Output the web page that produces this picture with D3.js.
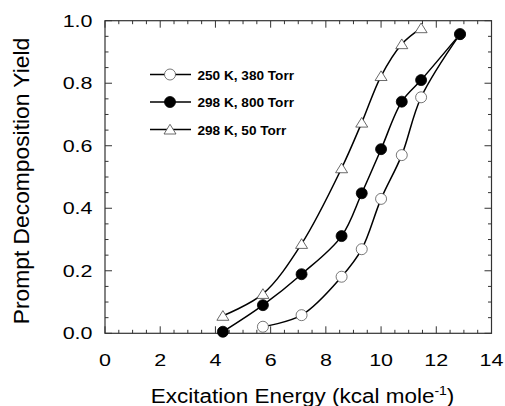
<!DOCTYPE html>
<html><head><meta charset="utf-8">
<script src="https://cdn.jsdelivr.net/npm/d3@7"></script>
<style>body{margin:0;background:#fff}svg{display:block}</style>
</head><body>
<script>
const energy = [4.27, 5.72, 7.12, 8.57, 9.30, 10.0, 10.75, 11.45, 12.86];
const yield250_380 = [null, 0.021, 0.058, 0.181, 0.269, 0.430, 0.570, 0.755, 0.957];
const yield298_800 = [0.005, 0.090, 0.189, 0.311, 0.448, 0.589, 0.741, 0.810, 0.957];
const yield298_50  = [0.056, 0.126, 0.286, 0.528, 0.674, 0.823, 0.925, 0.976, null];
const seriesNames = ["250 K, 380 Torr", "298 K, 800 Torr", "298 K, 50 Torr"];
const xTicks = [0, 2, 4, 6, 8, 10, 12, 14];
const yTicks = [0.0, 0.2, 0.4, 0.6, 0.8, 1.0];

const W = 505, H = 406;
const m = {l:105, r:13.5, t:20.7, b:72.7};
const svg = d3.select("body").append("svg").attr("width", W).attr("height", H);
const x = d3.scaleLinear().domain([0, 14]).range([m.l, W - m.r]);
const y = d3.scaleLinear().domain([0, 1]).range([H - m.b, m.t]);

const axisColor = "#333";
const font = "Liberation Sans, Arial, sans-serif";

// ticks (inward) on all four sides
const xMinor = d3.range(0, 14.01, 0.5);
const yMinor = d3.range(0, 1.001, 0.05);
const g = svg.append("g").attr("stroke", axisColor).attr("stroke-width", 1);
xMinor.forEach(v => {
  const major = Math.abs(v / 2 - Math.round(v / 2)) < 1e-6;
  const len = major ? 7 : 3.5;
  g.append("line").attr("x1", x(v)).attr("x2", x(v)).attr("y1", y(0)).attr("y2", y(0) - len);
  g.append("line").attr("x1", x(v)).attr("x2", x(v)).attr("y1", y(1)).attr("y2", y(1) + len);
});
yMinor.forEach(v => {
  const major = Math.abs(v / 0.2 - Math.round(v / 0.2)) < 1e-6;
  const len = major ? 7 : 3.5;
  g.append("line").attr("y1", y(v)).attr("y2", y(v)).attr("x1", x(0)).attr("x2", x(0) + len);
  g.append("line").attr("y1", y(v)).attr("y2", y(v)).attr("x1", x(14)).attr("x2", x(14) - len);
});
svg.append("rect").attr("x", x(0)).attr("y", y(1)).attr("width", x(14) - x(0)).attr("height", y(0) - y(1))
  .attr("fill", "none").attr("stroke", axisColor).attr("stroke-width", 1.2);

// tick labels (slightly compressed vertically, as in the reference)
const tickFs = 21.5, tickSy = 0.8;
svg.append("g").selectAll("text").data(xTicks).join("text")
  .attr("transform", d => `translate(${x(d)},366) scale(1,${tickSy})`).attr("text-anchor", "middle")
  .attr("font-family", font).attr("font-size", tickFs).attr("fill", "#000").text(d => d);
svg.append("g").selectAll("text").data(yTicks).join("text")
  .attr("transform", d => `translate(92.5,${y(d) + 6}) scale(1,${tickSy})`).attr("text-anchor", "end")
  .attr("font-family", font).attr("font-size", tickFs).attr("fill", "#000").text(d => d.toFixed(1));

// axis titles
const xt = svg.append("text").attr("transform", `translate(${302.5},402.5) scale(1,0.88)`).attr("text-anchor", "middle")
  .attr("font-family", font).attr("font-size", 22.5).attr("fill", "#000");
xt.append("tspan").text("Excitation Energy (kcal mole");
xt.append("tspan").attr("dy", -9).attr("font-size", 14).text("-1");
xt.append("tspan").attr("dy", 9).text(")");
svg.append("text").attr("transform", `translate(29.3,181) rotate(-90)`)
  .attr("text-anchor", "middle").attr("font-family", font).attr("font-size", 22.8).attr("fill", "#000")
  .text("Prompt Decomposition Yield");

// series
const series = [
  {name: seriesNames[0], vals: yield250_380, sym: "circle", fill: "#fff", stroke: "#555"},
  {name: seriesNames[1], vals: yield298_800, sym: "circle", fill: "#000", stroke: "#000"},
  {name: seriesNames[2], vals: yield298_50, sym: "triangle", fill: "#fff", stroke: "#444"}
];
const line = d3.line().x(d => x(d[0])).y(d => y(d[1])).curve(d3.curveCatmullRom.alpha(0.5));
const symCircle = d3.symbol().type(d3.symbolCircle).size(Math.PI * 5.5 * 5.5)();
const triPath = "M0,-5.2L6,4.5L-6,4.5Z";
const markPath = s => s.sym === "triangle" ? triPath : symCircle;

series.forEach(s => {
  const pts = energy.map((e, i) => [e, s.vals[i]]).filter(p => p[1] !== null);
  svg.append("path").attr("d", line(pts)).attr("fill", "none").attr("stroke", "#000").attr("stroke-width", 1.5);
});
series.forEach(s => {
  const pts = energy.map((e, i) => [e, s.vals[i]]).filter(p => p[1] !== null);
  svg.append("g").selectAll("path").data(pts).join("path")
    .attr("transform", d => `translate(${x(d[0])},${y(d[1])})`)
    .attr("d", markPath(s))
    .attr("fill", s.fill).attr("stroke", s.stroke).attr("stroke-width", 0.8);
});

// legend
const legY = [74.5, 102, 129.5];
series.forEach((s, i) => {
  const lg = svg.append("g").attr("transform", `translate(0,${legY[i]})`);
  lg.append("line").attr("x1", 150).attr("x2", 191).attr("y1", 0).attr("y2", 0).attr("stroke", "#000").attr("stroke-width", 1.5);
  lg.append("path").attr("transform", `translate(170,0)`)
    .attr("d", markPath(s))
    .attr("fill", s.fill).attr("stroke", s.stroke).attr("stroke-width", 0.8);
  lg.append("text").attr("x", 197.5).attr("y", 5.2).attr("font-family", font).attr("font-weight", "bold")
    .attr("font-size", 13.6).attr("fill", "#000").text(s.name);
});
</script>
</body></html>
